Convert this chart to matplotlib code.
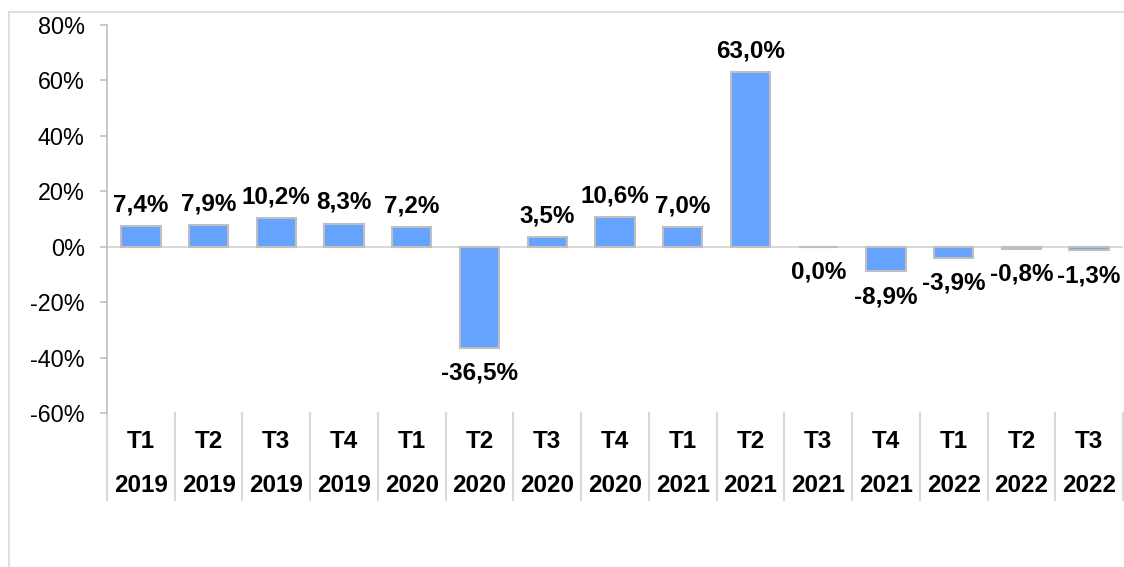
import matplotlib.pyplot as plt
from matplotlib.lines import Line2D
from matplotlib.ticker import FuncFormatter

plt.rcParams['font.family'] = ['Liberation Sans', 'DejaVu Sans']

quarters = ['T1', 'T2', 'T3', 'T4', 'T1', 'T2', 'T3', 'T4',
            'T1', 'T2', 'T3', 'T4', 'T1', 'T2', 'T3']
years = ['2019', '2019', '2019', '2019', '2020', '2020', '2020', '2020',
         '2021', '2021', '2021', '2021', '2022', '2022', '2022']
growth = [7.4, 7.9, 10.2, 8.3, 7.2, -36.5, 3.5, 10.6,
          7.0, 63.0, 0.0, -8.9, -3.9, -0.8, -1.3]

bar_color = '#66A3FF'
edge_color = '#BFBFBF'
grid_color = '#D9D9D9'
fs = 17.5      # bold labels
fs_tick = 16.8

fig = plt.figure(figsize=(11.24, 5.67), dpi=100)
ax = fig.add_axes([107 / 1124, 1 - 413 / 567, 1016 / 1124, 388 / 567])

x = list(range(len(growth)))
ax.bar(x, growth, width=0.58, color=bar_color, edgecolor=edge_color,
       linewidth=1.5, zorder=3)
ax.axhline(0, color=grid_color, linewidth=1.5, zorder=2)

ax.set_xlim(-0.5, len(growth) - 0.5)
ax.set_ylim(-60, 80)
ax.set_yticks(range(-60, 81, 20))
ax.yaxis.set_major_formatter(FuncFormatter(lambda v, p: f'{v:.0f}%'))
ax.tick_params(axis='y', labelsize=fs_tick, length=5, width=1.2,
               color=edge_color, pad=11)
ax.set_xticks([])

for s in ['top', 'right', 'bottom']:
    ax.spines[s].set_visible(False)
ax.spines['left'].set_color(edge_color)
ax.spines['left'].set_linewidth(1.2)

# data labels
for xi, v in zip(x, growth):
    txt = f'{v:.1f}%'.replace('.', ',')
    if v > 0:
        ax.annotate(txt, (xi, v), xytext=(0, 7), textcoords='offset points',
                    ha='center', va='bottom', fontsize=fs, fontweight='bold',
                    zorder=4)
    else:
        ax.annotate(txt, (xi, v), xytext=(0, -10), textcoords='offset points',
                    ha='center', va='top', fontsize=fs, fontweight='bold',
                    zorder=4)

# two-row category axis
trans = ax.get_xaxis_transform()
for xi, q, yr in zip(x, quarters, years):
    ax.text(xi, -28 / 388, q, transform=trans, ha='center', va='center',
            fontsize=fs, fontweight='bold')
    ax.text(xi, -72 / 388, yr, transform=trans, ha='center', va='center',
            fontsize=fs, fontweight='bold')
for b in range(len(growth) + 1):
    ax.add_line(Line2D([b - 0.5, b - 0.5], [0, -87 / 388], transform=trans,
                       color=grid_color, linewidth=1.5, clip_on=False))

# chart frame (partly cropped)
fig.add_artist(Line2D([9 / 1124, 1], [1 - 12 / 567, 1 - 12 / 567],
                      color=grid_color, linewidth=1.2))
fig.add_artist(Line2D([9 / 1124, 9 / 1124], [0, 1 - 12 / 567],
                      color=grid_color, linewidth=1.2))

fig.savefig('out.png', dpi=100)
